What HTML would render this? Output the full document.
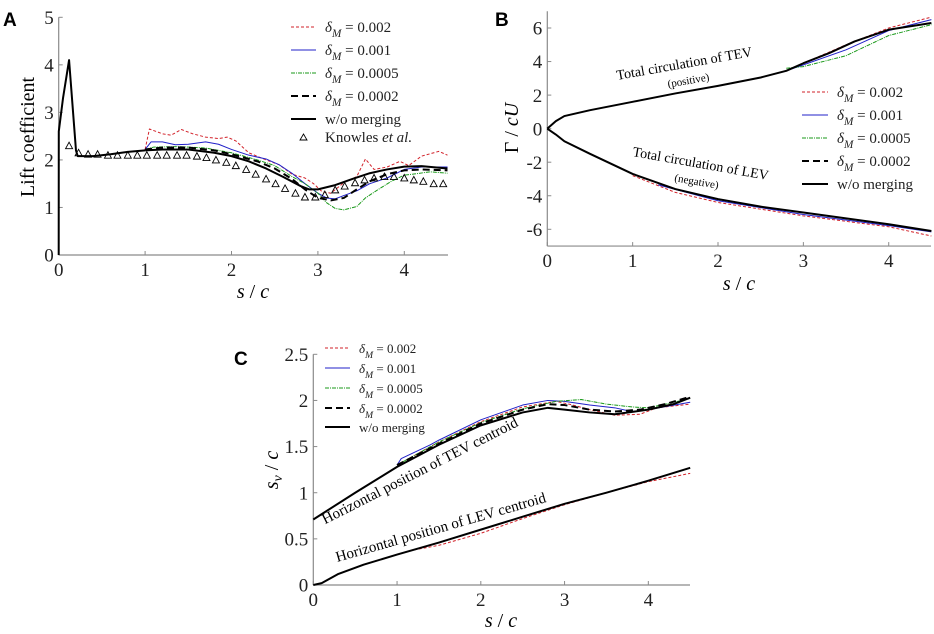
<!DOCTYPE html>
<html><head><meta charset="utf-8"><style>
html,body{margin:0;padding:0;background:#fff;}
svg{display:block;font-family:"Liberation Serif",serif;}
svg text{font-family:"Liberation Serif",serif;}
svg text.pl{font-family:"Liberation Sans",sans-serif;font-weight:bold;font-size:19px;}
</style></head><body>
<svg id="fig" width="934" height="634" viewBox="0 0 934 634" xmlns="http://www.w3.org/2000/svg"></svg>
<script>
// ---------- Panel A data ----------
const aBaseX=[0,0.001,0.05,0.12,0.2,0.22,0.4,0.6,0.8,1.0];
const aBaseY=[0,2.6,3.3,4.1,2.2,2.08,2.08,2.12,2.17,2.2];
const aSolidX=[1.0,1.2,1.5,1.8,2.0,2.2,2.4,2.6,2.8,2.9,3.0,3.2,3.4,3.6,3.8,4.0,4.2,4.5];
const aSolidY=[2.2,2.22,2.22,2.15,2.08,1.97,1.82,1.64,1.45,1.38,1.38,1.47,1.6,1.72,1.8,1.86,1.87,1.82];
const aRedX=[1.0,1.05,1.2,1.3,1.42,1.55,1.7,1.85,1.95,2.05,2.2,2.4,2.55,2.7,2.85,2.95,3.05,3.15,3.3,3.45,3.55,3.65,3.8,3.95,4.05,4.2,4.4,4.5];
const aRedY=[2.22,2.65,2.55,2.52,2.64,2.55,2.48,2.45,2.48,2.4,2.15,2.0,1.9,1.7,1.62,1.5,1.33,1.3,1.52,1.65,2.02,1.8,1.85,1.97,1.88,2.08,2.18,2.1];
const aBlueX=[1.0,1.07,1.2,1.35,1.5,1.7,1.85,2.0,2.2,2.4,2.55,2.7,2.85,3.0,3.1,3.2,3.3,3.45,3.6,3.8,4.0,4.2,4.5];
const aBlueY=[2.22,2.38,2.38,2.32,2.33,2.38,2.33,2.22,2.1,2.02,1.9,1.72,1.5,1.3,1.2,1.18,1.25,1.35,1.5,1.62,1.8,1.85,1.85];
const aGreenX=[1.0,1.1,1.4,1.7,2.0,2.3,2.5,2.7,2.85,3.0,3.1,3.2,3.3,3.45,3.55,3.7,3.85,4.0,4.1,4.3,4.5];
const aGreenY=[2.22,2.27,2.28,2.25,2.15,2.0,1.88,1.65,1.5,1.3,1.1,0.98,0.95,1.02,1.2,1.38,1.55,1.68,1.7,1.75,1.72];
const aDashX=[1.0,1.2,1.5,1.8,2.0,2.3,2.5,2.7,2.85,3.0,3.15,3.3,3.45,3.6,3.8,4.0,4.2,4.5];
const aDashY=[2.22,2.26,2.26,2.2,2.12,1.97,1.82,1.6,1.38,1.2,1.15,1.2,1.38,1.55,1.7,1.78,1.8,1.78];
const aKnowX=[0.12,0.23,0.34,0.45,0.57,0.68,0.8,0.91,1.02,1.14,1.25,1.37,1.48,1.6,1.71,1.82,1.94,2.05,2.17,2.28,2.4,2.51,2.62,2.74,2.85,2.97,3.08,3.2,3.31,3.43,3.54,3.65,3.77,3.88,4.0,4.11,4.22,4.34,4.45];
const aKnowY=[2.3,2.15,2.12,2.12,2.1,2.1,2.1,2.1,2.1,2.1,2.1,2.1,2.1,2.08,2.05,2.0,1.95,1.88,1.8,1.7,1.6,1.5,1.4,1.3,1.22,1.22,1.27,1.37,1.45,1.52,1.58,1.62,1.65,1.65,1.62,1.58,1.55,1.5,1.5];
const aYTicks=[0,1,2,3,4,5];
const xTicks=[0,1,2,3,4];
// ---------- Panel B data ----------
const bTevX=[0,0.1,0.2,0.5,1,1.5,2,2.5,2.8,3,3.3,3.6,4,4.5];
const bTevY=[0,0.45,0.75,1.1,1.6,2.1,2.55,3.05,3.45,3.9,4.5,5.2,5.9,6.3];
const bTevRedX=[2.8,3,3.5,4,4.5];const bTevRedY=[3.45,3.9,5.0,6.0,6.65];
const bTevBlueX=[2.8,3,3.5,4,4.5];const bTevBlueY=[3.45,3.8,4.7,5.85,6.5];
const bTevGreenX=[2.8,3,3.5,4,4.5];const bTevGreenY=[3.6,3.7,4.35,5.55,6.2];
const bLevX=[0,0.1,0.2,0.5,1,1.5,2,2.5,3,3.5,4,4.5];
const bLevY=[0,-0.35,-0.75,-1.5,-2.7,-3.6,-4.2,-4.65,-5.0,-5.35,-5.7,-6.1];
const bLevRedX=[1,1.5,2,3,4,4.5];const bLevRedY=[-2.8,-3.8,-4.4,-5.2,-5.85,-6.4];
const bLevBlueX=[1.3,2,3,4,4.5];const bLevBlueY=[-3.35,-4.3,-5.12,-5.78,-6.15];
const bYTicks=[-6,-4,-2,0,2,4,6];
// ---------- Panel C data ----------
const cTevX=[0,0.5,1,1.5,2,2.5,2.8,3,3.3,3.6,4,4.3,4.5];
const cTevY=[0.71,1.0,1.28,1.52,1.73,1.87,1.92,1.9,1.87,1.85,1.9,1.96,2.03];
const cBlueX=[1,1.05,1.4,1.5,2,2.5,2.8,3,3.3,3.6,3.8,4,4.5];
const cBlueY=[1.3,1.37,1.52,1.57,1.79,1.95,2.0,1.99,1.95,1.92,1.88,1.9,1.98];
const cRedX=[1,1.5,2,2.5,2.9,3.1,3.3,3.6,3.9,4.1,4.5];
const cRedY=[1.3,1.55,1.77,1.93,1.99,1.95,1.9,1.84,1.85,1.92,1.96];
const cGreenX=[1,1.5,2,2.5,2.9,3.2,3.5,3.8,4.0,4.5];
const cGreenY=[1.3,1.55,1.76,1.91,1.99,2.01,1.96,1.93,1.92,2.02];
const cDashX=[1,1.5,2,2.5,2.8,3,3.3,3.6,3.9,4.2,4.5];
const cDashY=[1.3,1.53,1.75,1.9,1.96,1.95,1.9,1.88,1.9,1.96,2.04];
const cLevX=[0,0.1,0.2,0.3,0.6,1,1.5,2,2.5,3,3.5,4,4.5];
const cLevY=[0,0.02,0.07,0.12,0.22,0.33,0.46,0.6,0.74,0.88,1.0,1.13,1.27];
const cLevRedX=[1.2,1.5,2,2.5,3,3.5,4,4.5];
const cLevRedY=[0.38,0.43,0.56,0.72,0.87,1.0,1.12,1.21];
const cYTicks=[0,0.5,1,1.5,2,2.5];
const cYTickLabels=["0","0.5","1","1.5","2","2.5"];

const NS="http://www.w3.org/2000/svg";
const svg=document.getElementById('fig');
function mk(tag,attrs,parent){const e=document.createElementNS(NS,tag);for(const k in attrs)e.setAttribute(k,attrs[k]);(parent||svg).appendChild(e);return e;}
function scale(d0,d1,r0,r1){return v=>r0+(v-d0)/(d1-d0)*(r1-r0);}
const STY={
 red:{stroke:"#d2222a","stroke-width":1,"stroke-dasharray":"3,2"},
 blue:{stroke:"#2020c8","stroke-width":1},
 green:{stroke:"#1a9a1a","stroke-width":1,"stroke-dasharray":"4,1,1,1"},
 dash:{stroke:"#000","stroke-width":2,"stroke-dasharray":"7,4"},
 solid:{stroke:"#000","stroke-width":2}
};
function line(g,xs,ys,sx,sy,st,name){
 const p=mk('path',Object.assign({d:xs.map((x,i)=>(i?'L':'M')+sx(x).toFixed(2)+','+sy(ys[i]).toFixed(2)).join(''),fill:"none","stroke-linejoin":"round"},st),g);
 
 
 return p;
}
function txt(g,x,y,s,attrs,name){const t=mk('text',Object.assign({x:x,y:y},attrs||{}),g);t.innerHTML=s;return t;}
function axes(g,x0,x1,y0,y1,sx,sy,xt,yt,ytl,fs,name){
 const ax=mk('g',{},g);
 mk('line',{x1:x0,y1:y0,x2:x0,y2:y1,stroke:"#8a8a8a","stroke-width":1.2},ax);
 mk('line',{x1:x0,y1:y0,x2:x1,y2:y0,stroke:"#8a8a8a","stroke-width":1.2},ax);
 xt.forEach(v=>{mk('line',{x1:sx(v),y1:y0,x2:sx(v),y2:y0-4,stroke:"#8a8a8a"},ax);
   txt(ax,sx(v),y0+fs+2,String(v),{"text-anchor":"middle","font-size":fs,fill:"#222"},'x-tick-label');});
 yt.forEach((v,i)=>{mk('line',{x1:x0,y1:sy(v),x2:x0+4,y2:sy(v),stroke:"#8a8a8a"},ax);
   txt(ax,x0-5,sy(v)+fs*0.35,ytl?ytl[i]:String(v),{"text-anchor":"end","font-size":fs,fill:"#222"},'y-tick-label');});
}
function dm(v,fs){return '<tspan font-style="italic">δ</tspan><tspan font-style="italic" font-size="'+(fs*0.75)+'" dy="5">M</tspan><tspan dy="-5"> = '+v+'</tspan>';}
function legend(g,x,ys,fs,len,items,name){
 const lg=mk('g',{},g);
 items.forEach((it,i)=>{const y=ys[i];
  if(it[0]==='tri'){mk('path',{d:`M${x+len/2-3.5},${y-2}L${x+len/2+3.5},${y-2}L${x+len/2},${y-8}Z`,fill:"none",stroke:"#000","stroke-width":0.9},lg);}
  else{mk('line',Object.assign({x1:x,y1:y-5,x2:x+len,y2:y-5},STY[it[0]]),lg);}
  txt(lg,x+len+9,y,it[1],{"font-size":fs,fill:"#222"},'legend-entry');
 });
}

// ===== Panel A =====
(function(){
 const g=mk('g',{});
 const sx=scale(0,4.5,58.7,447.5), sy=scale(0,5,255,17.3);
 txt(g,3,26,'A',{class:'pl'},'panel-label-a');
 axes(g,58.7,448,255,17.3,sx,sy,xTicks,aYTicks,null,19,'a');
 txt(g,253,298,'<tspan font-style="italic">s</tspan> / <tspan font-style="italic">c</tspan>',{"text-anchor":"middle","font-size":20},'x-axis-title');
 txt(g,0,0,'Lift coefficient',{"text-anchor":"middle","font-size":20,transform:"translate(34,137) rotate(-90)"},'y-axis-title');
 line(g,aRedX,aRedY,sx,sy,STY.red,'series-dm-0.002');
 line(g,aBlueX,aBlueY,sx,sy,STY.blue,'series-dm-0.001');
 line(g,aGreenX,aGreenY,sx,sy,STY.green,'series-dm-0.0005');
 line(g,aDashX,aDashY,sx,sy,STY.dash,'series-dm-0.0002');
 line(g,aBaseX,aBaseY,sx,sy,STY.solid,'series-initial');
 line(g,aSolidX,aSolidY,sx,sy,STY.solid,'series-wo-merging');
 aKnowX.forEach((x,i)=>{const cx=sx(x),cy=sy(aKnowY[i]);
  const t=mk('path',{d:`M${cx-3.5},${cy+3}L${cx+3.5},${cy+3}L${cx},${cy-3.5}Z`,fill:"none",stroke:"#000","stroke-width":0.9},g);
  
  });
 legend(g,291,[32,55,78,101,124,142],15,25,[['red',dm('0.002',15)],['blue',dm('0.001',15)],['green',dm('0.0005',15)],['dash',dm('0.0002',15)],['solid','w/o merging'],['tri','Knowles <tspan font-style="italic">et al.</tspan>']],'legend-a');
})();

// ===== Panel B =====
(function(){
 const g=mk('g',{});
 const sx=scale(0,4.5,547.3,931.4), sy=scale(-6,6,229.3,28);
 txt(g,495,26,'B',{class:'pl'},'panel-label-b');
 axes(g,547.3,931,sy(-7),sy(7),sx,sy,xTicks,bYTicks,null,19,'b');
 txt(g,739,290,'<tspan font-style="italic">s</tspan> / <tspan font-style="italic">c</tspan>',{"text-anchor":"middle","font-size":20},'x-axis-title');
 txt(g,0,0,'Γ / <tspan font-style="italic">cU</tspan>',{"text-anchor":"middle","font-size":20,transform:"translate(518,128) rotate(-90)"},'y-axis-title');
 txt(g,0,0,'Total circulation of TEV',{"text-anchor":"middle","font-size":14,transform:"translate(685,68) rotate(-10)"},'tev-annotation');
 txt(g,0,0,'(positive)',{"text-anchor":"middle","font-size":11,transform:"translate(689,84) rotate(-10)"},'tev-annotation-sub');
 txt(g,0,0,'Total circulation of LEV',{"text-anchor":"middle","font-size":14,transform:"translate(700,168) rotate(10)"},'lev-annotation');
 txt(g,0,0,'(negative)',{"text-anchor":"middle","font-size":11,transform:"translate(696,185) rotate(10)"},'lev-annotation-sub');
 line(g,bTevRedX,bTevRedY,sx,sy,STY.red,'tev-dm-0.002');
 line(g,bTevBlueX,bTevBlueY,sx,sy,STY.blue,'tev-dm-0.001');
 line(g,bTevGreenX,bTevGreenY,sx,sy,STY.green,'tev-dm-0.0005');
 line(g,bLevRedX,bLevRedY,sx,sy,STY.red,'lev-dm-0.002');
 line(g,bLevBlueX,bLevBlueY,sx,sy,STY.blue,'lev-dm-0.001');
 line(g,bTevX,bTevY,sx,sy,STY.solid,'tev-wo-merging');
 line(g,bLevX,bLevY,sx,sy,STY.solid,'lev-wo-merging');
 legend(g,802,[97,120,143,166,189],15,26,[['red',dm('0.002',15)],['blue',dm('0.001',15)],['green',dm('0.0005',15)],['dash',dm('0.0002',15)],['solid','w/o merging']],'legend-b');
})();

// ===== Panel C =====
(function(){
 const g=mk('g',{});
 const sx=scale(0,4.5,313.3,690.2), sy=scale(0,2.5,585,354.3);
 txt(g,234,365,'C',{class:'pl'},'panel-label-c');
 axes(g,313.3,690,585,354.3,sx,sy,xTicks,cYTicks,cYTickLabels,19,'c');
 txt(g,501,627,'<tspan font-style="italic">s</tspan> / <tspan font-style="italic">c</tspan>',{"text-anchor":"middle","font-size":20},'x-axis-title');
 txt(g,0,0,'<tspan font-style="italic">s<tspan font-size="14" dy="4">v</tspan></tspan><tspan dy="-4"> / </tspan><tspan font-style="italic">c</tspan>',{"text-anchor":"middle","font-size":20,transform:"translate(278,470) rotate(-90)"},'y-axis-title');
 txt(g,0,0,'Horizontal position of TEV centroid',{"text-anchor":"middle","font-size":15,transform:"translate(422,475) rotate(-27)"},'tev-annotation');
 txt(g,0,0,'Horizontal position of LEV centroid',{"text-anchor":"middle","font-size":15,transform:"translate(442,532) rotate(-16)"},'lev-annotation');
 line(g,cRedX,cRedY,sx,sy,STY.red,'tev-dm-0.002');
 line(g,cBlueX,cBlueY,sx,sy,STY.blue,'tev-dm-0.001');
 line(g,cGreenX,cGreenY,sx,sy,STY.green,'tev-dm-0.0005');
 line(g,cDashX,cDashY,sx,sy,STY.dash,'tev-dm-0.0002');
 line(g,cTevX,cTevY,sx,sy,STY.solid,'tev-wo-merging');
 line(g,cLevRedX,cLevRedY,sx,sy,STY.red,'lev-dm-0.002');
 line(g,cLevX,cLevY,sx,sy,STY.solid,'lev-wo-merging');
 legend(g,325,[353,373,393,413,432],13,25,[['red',dm('0.002',13)],['blue',dm('0.001',13)],['green',dm('0.0005',13)],['dash',dm('0.0002',13)],['solid','w/o merging']],'legend-c');
})();
</script>
</body></html>
